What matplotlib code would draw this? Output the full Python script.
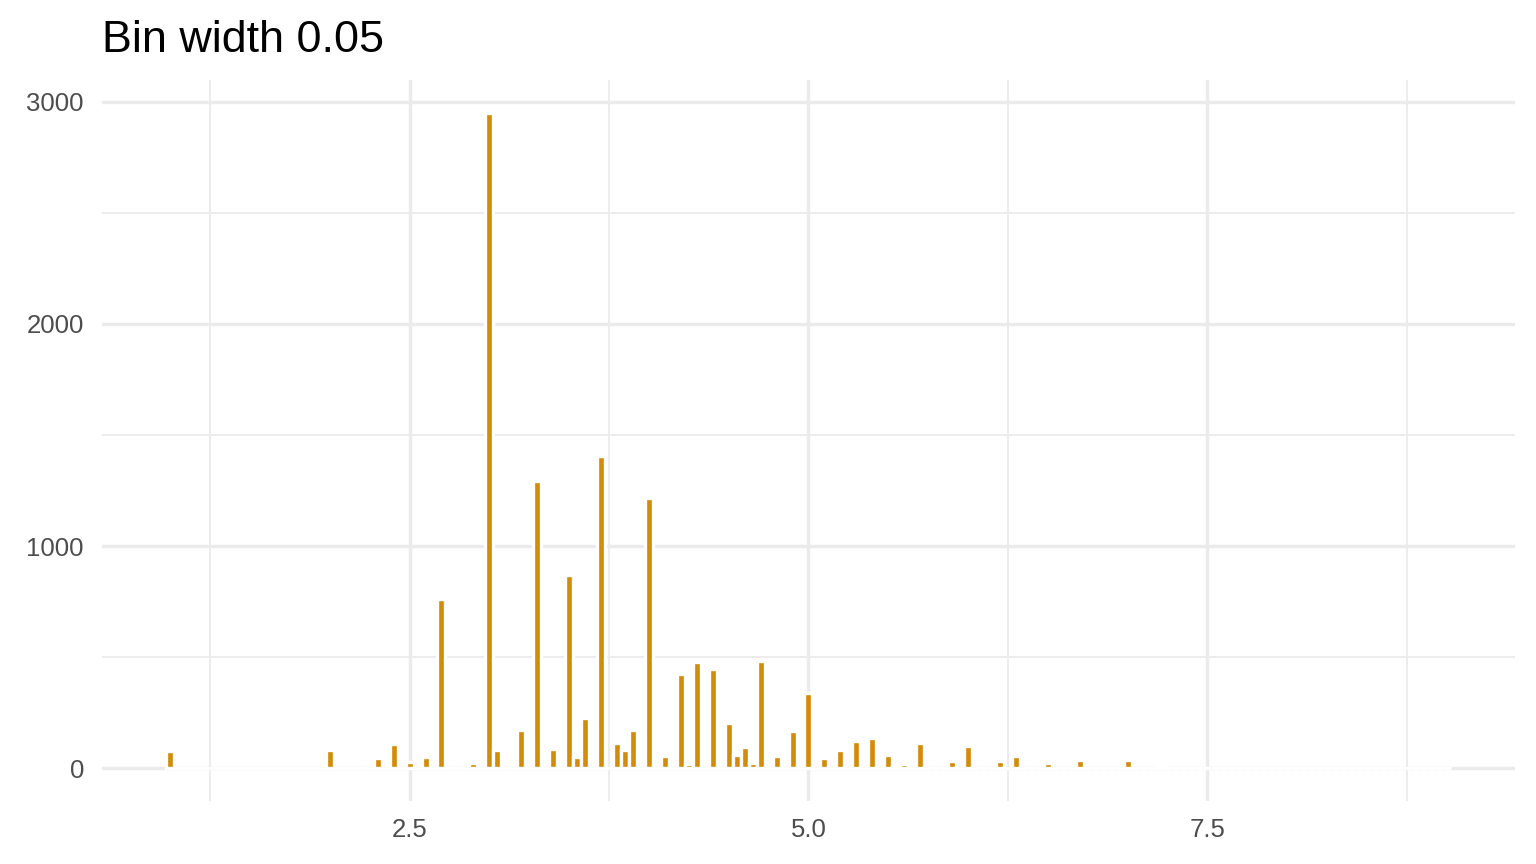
import numpy as np
import matplotlib
matplotlib.use("Agg")
import matplotlib.pyplot as plt
from matplotlib.ticker import MultipleLocator

# bin centres with non-zero counts (bin width 0.05)
bin_values = [1.0, 2.0, 2.3, 2.4, 2.5, 2.6, 2.7, 2.9, 3.0, 3.05,
              3.2, 3.3, 3.4, 3.5, 3.55, 3.6, 3.7, 3.8, 3.85, 3.9,
              4.0, 4.05, 4.1, 4.2, 4.25, 4.3, 4.4, 4.5, 4.55, 4.6,
              4.65, 4.7, 4.8, 4.9, 4.95, 5.0, 5.1, 5.2, 5.3, 5.4,
              5.5, 5.55, 5.6, 5.7, 5.9, 6.0, 6.2, 6.3, 6.5, 6.7,
              7.0, 7.2]
counts = [77, 83, 44, 107, 30, 50, 760, 25, 2950, 80,
          170, 1295, 88, 870, 50, 225, 1405, 115, 84, 170,
          1215, 8, 55, 425, 20, 478, 446, 205, 61, 97,
          25, 483, 57, 168, 10, 340, 44, 80, 123, 135,
          59, 9, 20, 115, 34, 99, 32, 57, 22, 39,
          36, 16]
data_min, data_max = 1.0, 9.0
BIN_WIDTH = 0.05

FILL = '#D38B0C'
GRID = '#EBEBEB'

# full set of bins (zero bins included, as ggplot draws them)
n_bins = int(round((data_max - data_min) / BIN_WIDTH)) + 1
centres = np.round(data_min + BIN_WIDTH * np.arange(n_bins), 2)
heights = np.zeros(n_bins)
lookup = {round(v, 2): c for v, c in zip(bin_values, counts)}
for i, c in enumerate(centres):
    heights[i] = lookup.get(round(c, 2), 0)

fig = plt.figure(figsize=(15.36, 8.64), dpi=100)
ax = fig.add_axes([0.0664, 0.0729, 0.9199, 0.8345])

ax.bar(centres, heights, width=BIN_WIDTH, color=FILL, edgecolor='white',
       linewidth=2.4, zorder=2)

lo = centres[0] - BIN_WIDTH / 2
hi = centres[-1] + BIN_WIDTH / 2
pad = (hi - lo) * 0.05
ax.set_xlim(lo - pad, hi + pad)
ymax = max(counts)
ax.set_ylim(-0.05 * ymax, 1.05 * ymax)

ax.xaxis.set_major_locator(MultipleLocator(2.5))
ax.xaxis.set_minor_locator(MultipleLocator(1.25))
ax.yaxis.set_major_locator(MultipleLocator(1000))
ax.yaxis.set_minor_locator(MultipleLocator(500))
ax.set_xticks([2.5, 5.0, 7.5])
ax.set_xticklabels(['2.5', '5.0', '7.5'])

ax.set_axisbelow(True)
ax.grid(which='major', color=GRID, linewidth=2.5, zorder=0)
ax.grid(which='minor', color=GRID, linewidth=1.3, zorder=0)
for s in ax.spines.values():
    s.set_visible(False)
ax.tick_params(which='both', length=0)
ax.tick_params(axis='y', labelsize=18.5, labelcolor='#4D4D4D', pad=13)
ax.tick_params(axis='x', labelsize=18.5, labelcolor='#4D4D4D', pad=12)
for lab in ax.get_xticklabels() + ax.get_yticklabels():
    lab.set_fontfamily('Liberation Sans')

fig.text(0.0664, 0.94, 'Bin width 0.05', fontsize=32.3, family='Liberation Sans',
         color='black', ha='left', va='baseline')

fig.savefig('out.png', dpi=100, facecolor='white')
